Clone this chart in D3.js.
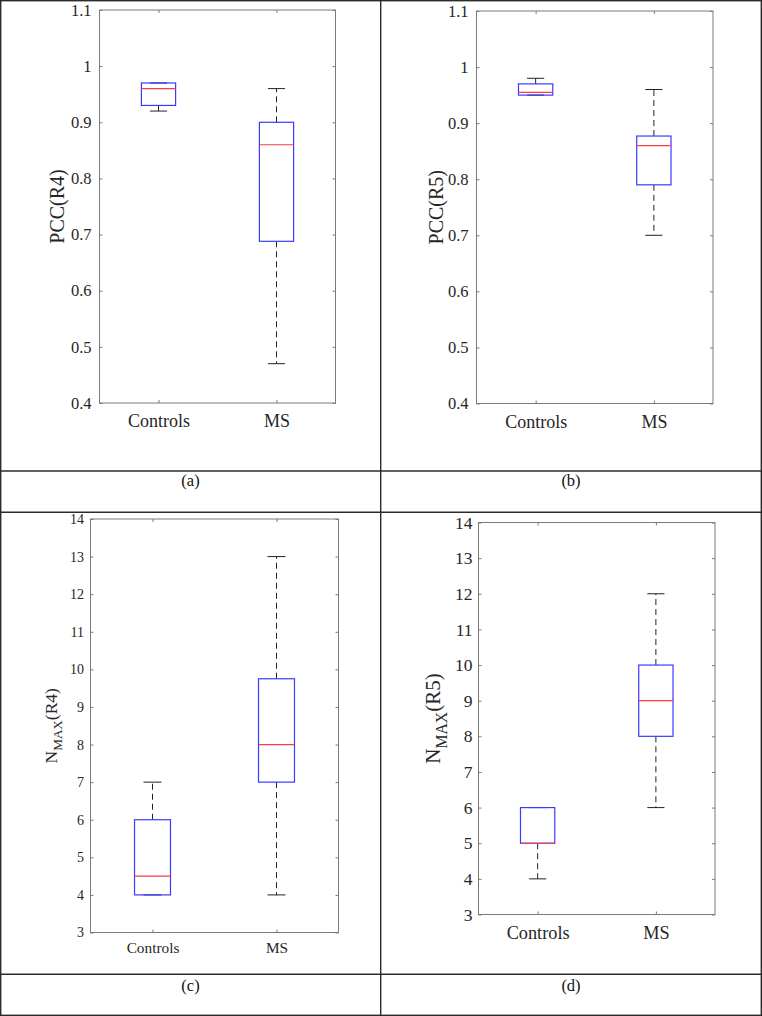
<!DOCTYPE html>
<html>
<head>
<meta charset="utf-8">
<script src="https://cdn.jsdelivr.net/npm/d3@7"></script>
<style>
  html, body { margin: 0; padding: 0; background: #fff; }
  svg { display: block; }
  svg text { font-family: "Liberation Serif", "Times New Roman", serif; }
</style>
</head>
<body>
<div id="chart"></div>
<script>
// ---------- data ----------
const categories = ["Controls", "MS"];
// five-number summaries: [lowerWhisker, q1, median, q3, upperWhisker]
const pccR4Controls = [0.92, 0.93, 0.96, 0.97, 0.97];
const pccR4MS       = [0.47, 0.688, 0.86, 0.90, 0.96];
const pccR5Controls = [0.95, 0.95, 0.955, 0.97, 0.98];
const pccR5MS       = [0.70, 0.79, 0.86, 0.877, 0.96];
const nmaxR4Controls = [4, 4, 4.5, 6, 7];
const nmaxR4MS       = [4, 7, 8, 9.75, 13];
const nmaxR5Controls = [4, 5, 5, 6, 6];
const nmaxR5MS       = [6, 8, 9, 10, 12];
const pccTicks = [0.4, 0.5, 0.6, 0.7, 0.8, 0.9, 1.0, 1.1];
const pccTickLabels = ["0.4", "0.5", "0.6", "0.7", "0.8", "0.9", "1", "1.1"];
const nmaxTicks = [3, 4, 5, 6, 7, 8, 9, 10, 11, 12, 13, 14];
const nmaxTickLabels = ["3", "4", "5", "6", "7", "8", "9", "10", "11", "12", "13", "14"];
const captions = ["(a)", "(b)", "(c)", "(d)"];

// ---------- layout ----------
const W = 762, H = 1016;
const FONT = '"Liberation Serif", "Times New Roman", serif';
const svg = d3.select("#chart").append("svg").attr("width", W).attr("height", H);

const panels = [
  { series: [pccR4Controls, pccR4MS], ticks: pccTicks, tickLabels: pccTickLabels,
    domain: [0.4, 1.1], label: ["PCC(R4)"], caption: captions[0],
    l: 99.5, r: 335.5, t: 10, b: 403, tickFont: 16.5, xFont: 18, xBase: 427, yFont: 20,
    yLabX: 64, labGap: 8, capX: 190.5, capY: 486 },
  { series: [pccR5Controls, pccR5MS], ticks: pccTicks, tickLabels: pccTickLabels,
    domain: [0.4, 1.1], label: ["PCC(R5)"], caption: captions[1],
    l: 476.5, r: 713, t: 11, b: 403.5, tickFont: 16.5, xFont: 18, xBase: 428, yFont: 20,
    yLabX: 443, labGap: 8, capX: 571, capY: 486 },
  { series: [nmaxR4Controls, nmaxR4MS], ticks: nmaxTicks, tickLabels: nmaxTickLabels,
    domain: [3, 14], label: ["N", "MAX", "(R4)"], caption: captions[2],
    l: 90.5, r: 338.5, t: 519, b: 932.5, tickFont: 14, xFont: 15.3, xBase: 952.5, yFont: 17.5,
    yLabX: 56.5, labGap: 6.5, capX: 190.5, capY: 991 },
  { series: [nmaxR5Controls, nmaxR5MS], ticks: nmaxTicks, tickLabels: nmaxTickLabels,
    domain: [3, 14], label: ["N", "MAX", "(R5)"], caption: captions[3],
    l: 478.5, r: 715, t: 522.5, b: 914.5, tickFont: 17.5, xFont: 18.3, xBase: 938.5, yFont: 21,
    yLabX: 440, labGap: 6, capX: 571, capY: 991 }
];

const AXIS_COLOR = "#7a7a7a";
const TEXT_COLOR = "#262626";
const BOX_COLOR = "#3a3aff";
const MED_COLOR = "#ff3b3b";

function drawPanel(p) {
  const g = svg.append("g");
  const x = d3.scalePoint().domain(categories).range([p.l, p.r]).padding(0.5);
  const y = d3.scaleLinear().domain(p.domain).range([p.b, p.t]);
  const step = x.step();
  const bw = step * 0.29;
  const cw = bw / 2;

  // frame
  g.append("rect").attr("x", p.l).attr("y", p.t)
    .attr("width", p.r - p.l).attr("height", p.b - p.t)
    .attr("fill", "none").attr("stroke", AXIS_COLOR).attr("stroke-width", 1);

  // left axis (labels + inside ticks)
  const left = g.append("g").attr("transform", `translate(${p.l},0)`)
    .call(d3.axisLeft(y).tickValues(p.ticks).tickSize(-3)
      .tickPadding(p.labGap).tickFormat((d, i) => p.tickLabels[i]));
  left.attr("font-family", null).attr("font-size", null);
  left.select(".domain").remove();
  left.selectAll(".tick line").attr("stroke", AXIS_COLOR);
  left.selectAll(".tick text").style("font-family", FONT).style("font-size", p.tickFont + "px")
    .attr("fill", TEXT_COLOR).attr("x", -p.labGap);

  // right axis ticks
  const right = g.append("g").attr("transform", `translate(${p.r},0)`)
    .call(d3.axisRight(y).tickValues(p.ticks).tickSize(-3).tickFormat(""));
  right.select(".domain").remove();
  right.selectAll(".tick line").attr("stroke", AXIS_COLOR);

  // bottom axis
  const bottom = g.append("g").attr("transform", `translate(0,${p.b})`)
    .call(d3.axisBottom(x).tickSize(-3).tickPadding(0));
  bottom.attr("font-family", null).attr("font-size", null);
  bottom.select(".domain").remove();
  bottom.selectAll(".tick line").attr("stroke", AXIS_COLOR);
  bottom.selectAll(".tick text").style("font-family", FONT).style("font-size", p.xFont + "px")
    .attr("fill", TEXT_COLOR).attr("dy", null).attr("y", p.xBase - p.b);

  // top ticks
  const top = g.append("g").attr("transform", `translate(0,${p.t})`)
    .call(d3.axisTop(x).tickSize(-3).tickFormat(""));
  top.select(".domain").remove();
  top.selectAll(".tick line").attr("stroke", AXIS_COLOR);

  // boxes
  categories.forEach((c, i) => {
    const [lo, q1, med, q3, hi] = p.series[i];
    const cx = x(c);
    const bg = g.append("g");
    if (hi > q3) {
      bg.append("line").attr("x1", cx).attr("x2", cx).attr("y1", y(q3)).attr("y2", y(hi))
        .attr("stroke", "#222").attr("stroke-dasharray", "6,4");
    }
    if (lo < q1) {
      bg.append("line").attr("x1", cx).attr("x2", cx).attr("y1", y(q1)).attr("y2", y(lo))
        .attr("stroke", "#222").attr("stroke-dasharray", "6,4");
    }
    [lo, hi].forEach(v => {
      bg.append("line").attr("x1", cx - cw / 2).attr("x2", cx + cw / 2)
        .attr("y1", y(v)).attr("y2", y(v)).attr("stroke", "#222");
    });
    bg.append("rect").attr("x", cx - bw / 2).attr("y", y(q3))
      .attr("width", bw).attr("height", y(q1) - y(q3))
      .attr("fill", "none").attr("stroke", BOX_COLOR).attr("stroke-width", 1.2);
    bg.append("line").attr("x1", cx - bw / 2).attr("x2", cx + bw / 2)
      .attr("y1", y(med)).attr("y2", y(med)).attr("stroke", MED_COLOR).attr("stroke-width", 1.2);
  });

  // y label
  const cy = (p.t + p.b) / 2;
  const yl = g.append("text")
    .attr("transform", `translate(${p.yLabX},${cy}) rotate(-90)`)
    .attr("text-anchor", "middle")
    .style("font-family", FONT).style("font-size", p.yFont + "px").attr("fill", TEXT_COLOR);
  if (p.label.length === 1) {
    yl.text(p.label[0]);
  } else {
    yl.append("tspan").text(p.label[0]);
    yl.append("tspan").style("font-size", (p.yFont * 0.75) + "px").attr("dy", p.yFont * 0.32).text(p.label[1]);
    yl.append("tspan").attr("dy", -p.yFont * 0.32).text(p.label[2]);
  }

  // caption
  svg.append("text").attr("x", p.capX).attr("y", p.capY)
    .attr("text-anchor", "middle")
    .style("font-family", FONT).style("font-size", "16.5px").attr("fill", "#111").text(p.caption);
}

panels.forEach(drawPanel);

// table grid
const grid = svg.append("g").attr("stroke", "#2b2b2b").attr("stroke-width", 1.4).attr("fill", "none");
grid.append("rect").attr("x", 0.7).attr("y", 0.7).attr("width", W - 1.4).attr("height", H - 1.4);
grid.append("line").attr("x1", 380.7).attr("x2", 380.7).attr("y1", 0).attr("y2", H);
[471, 512.3, 974.3].forEach(v => {
  grid.append("line").attr("x1", 0).attr("x2", W).attr("y1", v).attr("y2", v);
});
</script>
</body>
</html>
